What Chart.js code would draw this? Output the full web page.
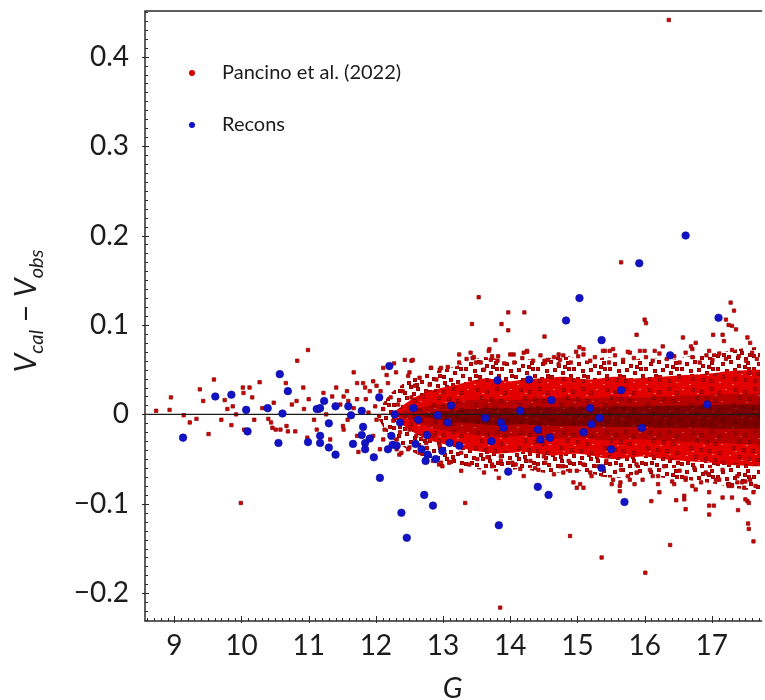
<!DOCTYPE html>
<html>
<head>
<meta charset="utf-8">
<script src="https://cdn.jsdelivr.net/npm/chart.js@4.4.1/dist/chart.umd.min.js"></script>
<style>
html,body{margin:0;padding:0;background:#fff;overflow:hidden}
#wrap{width:765px;height:700px;position:relative}
</style>
</head>
<body>
<div id="wrap"><canvas id="chart" width="765" height="700"></canvas></div>
<script>
// axis limits (x runs past the right edge of the canvas)
const X_MIN = 8.564, X_MAX = 17.72;
const Y_MIN = -0.231, Y_MAX = 0.451;

// Recons stars
const reconsG = [9.13,9.61,9.85,10.07,10.09,10.39,10.57,10.69,10.61,10.55,10.99,11.12,11.17,11.23,11.30,11.17,11.17,11.30,11.40,11.40,
  11.59,11.63,11.66,11.79,11.81,11.79,11.84,11.84,11.91,11.97,12.05,12.06,12.20,12.18,12.25,12.31,12.28,12.36,12.23,12.38,
  12.46,12.56,12.63,12.59,12.68,12.76,12.77,12.74,12.89,12.72,12.85,12.92,12.99,13.10,13.12,13.07,13.24,13.63,13.72,13.81,
  13.83,13.86,13.90,13.97,14.15,14.28,14.41,14.41,14.45,14.57,14.59,14.61,14.83,15.03,15.09,15.19,15.21,15.33,15.36,15.36,
  15.50,15.65,15.70,15.92,15.96,16.38,16.61,16.93,17.10];
const reconsV = [-0.026,0.020,0.022,0.005,-0.019,0.007,0.045,0.026,0.001,-0.032,-0.031,0.006,0.007,0.015,-0.010,-0.024,-0.032,-0.037,-0.045,0.009,
  0.009,-0.001,-0.033,0.004,-0.014,-0.023,-0.032,-0.039,-0.027,-0.048,0.019,-0.071,0.054,-0.039,-0.034,-0.035,0.000,-0.009,-0.024,-0.110,
  -0.138,0.007,-0.006,-0.033,-0.039,-0.023,-0.045,-0.052,-0.050,-0.090,-0.102,-0.001,-0.041,-0.032,0.010,-0.009,-0.035,-0.004,-0.030,0.038,
  -0.124,-0.009,-0.015,-0.064,0.004,0.039,-0.017,-0.081,-0.028,-0.090,-0.026,0.016,0.105,0.130,-0.020,0.007,-0.011,-0.004,0.083,-0.060,
  -0.039,0.027,-0.098,0.169,-0.015,0.066,0.200,0.011,0.108];

// Pancino et al. (2022): isolated stars around and outside the dense cloud
const pancinoG = [8.73,8.93,8.95,9.14,9.23,9.33,9.38,9.43,9.51,9.59,9.70,9.75,9.79,9.85,9.87,9.92,9.99,10.02,10.03,10.12,
  10.04,10.16,10.19,10.27,10.31,10.40,10.44,10.46,10.48,10.51,10.58,10.66,10.67,10.69,10.75,10.82,10.83,10.92,10.99,11.00,
  10.93,10.98,10.80,11.08,11.12,11.22,11.35,11.41,11.47,11.51,11.57,11.67,11.72,11.74,11.81,11.91,12.01,12.11,12.16,12.27,
  12.35,12.43,12.53,12.50,12.94,
  11.52,11.59,11.67,11.72,11.84,11.85,11.89,11.96,11.99,12.01,12.07,12.11,12.13,12.18,12.22,12.26,12.30,12.33,12.36,12.40,
  12.43,12.48,12.50,12.53,12.58,12.60,12.65,12.70,12.75,12.80,12.85,12.90,12.95,12.97,12.65,12.11,12.31,12.50,11.96,11.72,
  11.52,12.31,11.58,11.79,12.06,11.26,11.15,11.32,
  13.53,13.43,13.97,14.21,13.87,13.97,13.78,14.51,16.00,16.02,15.88,17.28,17.33,17.21,17.25,17.30,17.36,17.02,17.16,17.18,
  17.53,17.57,16.57,16.76,16.71,16.69,16.96,16.27,16.15,16.00,15.78,15.48,15.53,15.41,15.09,15.03,15.01,14.74,14.51,14.25,
  14.05,13.69,13.41,13.24,12.97,13.44,13.73,13.81,14.20,14.72,14.52,12.55,12.82,13.49,13.61,15.65,16.36,
  13.33,13.83,14.89,15.36,16.01,16.38,13.85,17.54,17.55,17.62,17.39,17.53,16.96,16.96,17.03,16.61,16.59,16.47,16.22,16.10,
  15.85,15.63,15.64,15.09,14.94,14.79,14.15,13.09,17.30,17.38,17.16,16.76,16.44,17.62,17.50,14.37,14.50,14.79,14.89,14.99,
  13.66,13.73,13.86,14.03,12.38,12.48,13.27,16.59,16.96,17.30,17.50,17.55,15.51,15.63,16.20,15.04,15.19,16.12,15.78,15.88,
  16.61,16.71,16.91,17.11,17.25,17.45,
  12.82,12.95,13.07,13.24,13.35,13.46,13.56,13.68,13.71,13.82,13.91,14.00,14.06,14.18,14.25,14.34,14.45,14.56,14.65,14.72,
  14.79,14.90,14.98,15.09,15.19,15.26,15.38,15.47,15.56,15.68,15.75,15.84,15.93,16.02,16.12,16.22,16.33,16.44,16.52,16.61,
  16.71,16.82,16.92,17.01,17.11,17.21,17.30,17.40,17.51,17.60,17.67,
  12.85,12.99,13.12,13.27,13.39,13.51,13.61,13.73,13.86,13.96,14.08,14.20,14.30,14.42,14.52,14.65,14.74,14.87,14.99,15.09,
  15.21,15.31,15.43,15.53,15.65,15.75,15.88,15.97,16.08,16.20,16.29,16.41,16.52,16.61,16.74,16.84,16.95,17.06,17.16,17.26,
  17.38,17.48,17.57,17.65];
const pancinoV = [0.004,0.005,0.019,-0.001,-0.009,-0.005,0.028,0.015,-0.022,0.039,-0.006,0.016,0.006,-0.012,0.009,0.000,-0.099,0.030,0.024,0.030,
  -0.017,0.019,-0.006,0.036,0.007,-0.005,-0.009,-0.015,0.013,-0.017,-0.017,0.035,-0.013,-0.019,0.011,0.015,0.060,0.030,0.072,0.017,
  0.006,-0.026,-0.019,-0.006,-0.017,0.024,0.020,0.030,0.011,-0.013,0.026,0.047,0.017,-0.042,0.035,0.026,0.032,0.052,0.044,0.057,
  -0.045,0.061,0.060,0.047,-0.056,
  0.020,0.015,0.007,0.035,0.030,0.017,0.002,0.037,0.009,-0.006,0.026,0.006,-0.017,0.035,0.019,-0.007,0.047,0.011,-0.020,0.026,
  0.002,0.043,-0.017,0.019,0.032,-0.024,0.041,0.020,-0.032,0.033,-0.024,0.039,-0.035,-0.054,-0.043,-0.028,-0.039,-0.037,-0.024,-0.024,
  -0.017,-0.028,-0.006,0.002,-0.039,0.000,0.004,-0.028,
  0.131,0.101,0.114,0.114,0.101,0.094,0.083,0.087,0.106,0.102,0.089,0.125,0.116,0.106,0.100,0.099,0.095,0.089,0.089,0.082,
  0.086,0.080,0.086,0.080,0.073,0.076,0.071,0.076,0.071,0.071,0.069,0.071,0.073,0.071,0.073,0.075,0.065,0.061,0.060,0.071,
  0.067,0.073,0.069,0.067,0.052,0.063,0.065,0.060,0.069,0.067,0.058,0.061,0.052,0.058,0.050,0.170,0.441,
  -0.099,-0.071,-0.136,-0.160,-0.177,-0.146,-0.216,-0.122,-0.128,-0.142,-0.107,-0.097,-0.112,-0.102,-0.102,-0.106,-0.095,-0.096,-0.087,-0.097,
  -0.078,-0.086,-0.076,-0.082,-0.076,-0.065,-0.061,-0.054,-0.080,-0.076,-0.093,-0.084,-0.078,-0.087,-0.075,-0.060,-0.047,-0.058,-0.063,-0.082,
  -0.048,-0.056,-0.047,-0.054,-0.043,-0.039,-0.043,-0.091,-0.087,-0.093,-0.095,-0.099,-0.078,-0.080,-0.078,-0.078,-0.065,-0.069,-0.073,-0.065,
  -0.073,-0.080,-0.065,-0.073,-0.080,-0.076,
  0.052,0.050,0.053,0.058,0.062,0.064,0.058,0.071,0.061,0.065,0.057,0.067,0.058,0.063,0.070,0.060,0.066,0.061,0.064,0.056,
  0.066,0.058,0.070,0.067,0.060,0.064,0.071,0.058,0.066,0.061,0.070,0.063,0.071,0.064,0.060,0.068,0.062,0.065,0.058,0.069,
  0.064,0.058,0.066,0.061,0.068,0.062,0.072,0.065,0.060,0.069,0.062,
  -0.052,-0.058,-0.053,-0.063,-0.056,-0.050,-0.065,-0.058,-0.052,-0.063,-0.056,-0.069,-0.052,-0.062,-0.054,-0.067,-0.058,-0.052,-0.063,-0.056,
  -0.069,-0.058,-0.052,-0.073,-0.062,-0.069,-0.056,-0.073,-0.062,-0.069,-0.058,-0.075,-0.063,-0.071,-0.060,-0.076,-0.067,-0.073,-0.062,-0.078,
  -0.069,-0.082,-0.073,-0.080];

// envelope of the crowded part of the Pancino sample, per G bin
const bandG    = [12.0,12.2,12.4,12.6,12.8,13.0,13.2,13.4,13.6,13.8,14.0,14.2,14.4,14.6,14.8,15.0,15.2,15.4,15.6,15.8,16.0,16.2,16.4,16.6,16.8,17.0,17.2,17.4,17.6,17.72];
const fringeHi = [0,0.022,0.034,0.042,0.047,0.050,0.054,0.060,0.064,0.062,0.058,0.062,0.061,0.063,0.066,0.062,0.060,0.064,0.062,0.060,0.064,0.062,0.061,0.064,0.066,0.068,0.070,0.073,0.075,0.076];
const fringeLo = [0,-0.024,-0.036,-0.044,-0.050,-0.053,-0.056,-0.060,-0.062,-0.064,-0.062,-0.061,-0.064,-0.066,-0.064,-0.063,-0.066,-0.070,-0.071,-0.068,-0.067,-0.070,-0.072,-0.073,-0.075,-0.077,-0.080,-0.083,-0.085,-0.086];
const solidHi  = [0,0,0.010,0.020,0.026,0.030,0.033,0.037,0.040,0.039,0.037,0.039,0.040,0.041,0.042,0.040,0.039,0.041,0.042,0.040,0.041,0.042,0.043,0.044,0.045,0.046,0.048,0.049,0.050,0.050];
const solidLo  = [0,0,-0.012,-0.022,-0.029,-0.033,-0.036,-0.040,-0.042,-0.044,-0.043,-0.042,-0.044,-0.046,-0.045,-0.044,-0.046,-0.049,-0.050,-0.048,-0.047,-0.049,-0.051,-0.052,-0.053,-0.054,-0.056,-0.057,-0.058,-0.058];
const coreHi   = [0,0,0.002,0.006,0.010,0.012,0.014,0.016,0.017,0.017,0.016,0.017,0.018,0.018,0.019,0.018,0.018,0.019,0.020,0.019,0.019,0.020,0.020,0.021,0.021,0.022,0.022,0.023,0.023,0.023];
const coreLo   = [0,0,-0.004,-0.009,-0.014,-0.018,-0.020,-0.022,-0.024,-0.025,-0.025,-0.024,-0.026,-0.027,-0.027,-0.026,-0.027,-0.029,-0.029,-0.028,-0.028,-0.029,-0.030,-0.031,-0.031,-0.032,-0.032,-0.033,-0.033,-0.033];
const darkHi   = [0,0,0,0,0.002,0.004,0.005,0.006,0.007,0.007,0.007,0.007,0.008,0.008,0.008,0.008,0.008,0.008,0.009,0.009,0.009,0.009,0.010,0.010,0.010,0.010,0.011,0.011,0.011,0.011];
const darkLo   = [0,0,0,0,-0.004,-0.007,-0.009,-0.010,-0.011,-0.012,-0.012,-0.011,-0.012,-0.013,-0.013,-0.013,-0.013,-0.014,-0.014,-0.014,-0.014,-0.015,-0.015,-0.015,-0.015,-0.016,-0.016,-0.016,-0.016,-0.016];

const FONT = 'Lato, "DejaVu Sans", sans-serif';
const INK = '#1c1c1c';

const pts = (gs, vs) => gs.map((g, i) => ({x: g, y: vs[i]}));

// speckle textures built from small square markers
const SPOTS_SPARSE = [[1,2],[9,0],[17,4],[26,1],[32,7],[5,9],[13,8],[21,11],[29,14],[0,17],[10,15],[17,18],[24,20],[32,22],
  [4,24],[13,25],[20,27],[28,29],[7,31],[16,32],[24,33],[32,30],[2,29],[11,21],[27,7],[19,23],[6,14],[23,5]];
const SPOTS_DENSE = [[3,1],[12,3],[22,0],[30,4],[7,9],[17,10],[26,12],[1,16],[11,18],[20,19],[30,21],[6,25],[16,27],[25,28],[33,31],[3,33],[13,34],[22,35]];
const GAPS = [[9,6],[27,8],[15,15],[4,21],[24,24],[33,14],[10,30],[19,31],[37,2],[31,38],[1,40],[41,25]];

function speckle(spots, base, gaps, size){
  const c = document.createElement('canvas');
  c.width = size; c.height = size;
  const g = c.getContext('2d');
  if (base){ g.fillStyle = base; g.fillRect(0, 0, size, size); }
  (gaps || []).forEach(([x, y]) => { g.fillStyle = 'rgba(255,210,210,0.55)'; g.fillRect(x, y, 2, 1); });
  spots.forEach(([x, y]) => {
    g.fillStyle = '#d60000'; g.fillRect(x, y, 4, 4);
    g.strokeStyle = 'rgba(125,0,0,0.75)'; g.lineWidth = 1; g.strokeRect(x + 0.5, y + 0.5, 3, 3);
  });
  return g.createPattern(c, 'repeat');
}

function band(values, colour, fillNext){
  return {type:'line', data: pts(bandG, values), pointRadius:0, borderWidth:0, tension:0.25,
    backgroundColor: colour, fill: fillNext ? '+1' : false};
}

// frame and inward ticks, matplotlib style
const frame = {
  id: 'frame',
  afterDatasetsDraw(chart){
    const {ctx, chartArea: a, scales: {x, y}} = chart;
    ctx.save();
    ctx.strokeStyle = '#2b2b2b';
    ctx.lineWidth = 1.5;
    ctx.beginPath();
    ctx.moveTo(a.right + 2, a.top); ctx.lineTo(a.left, a.top);
    ctx.lineTo(a.left, a.bottom); ctx.lineTo(a.right + 2, a.bottom);
    ctx.stroke();
    ctx.lineWidth = 1;
    ctx.beginPath();
    for (let k = Math.ceil(X_MIN * 10); k <= Math.floor(X_MAX * 10); k++){
      const px = Math.round(x.getPixelForValue(k / 10)) + 0.5;
      const major = k % 10 === 0;
      ctx.moveTo(px, a.bottom + (major ? 2 : 0));
      ctx.lineTo(px, a.bottom - (major ? 5 : 3));
    }
    for (let k = Math.ceil(Y_MIN * 100); k <= Math.floor(Y_MAX * 100); k++){
      const py = Math.round(y.getPixelForValue(k / 100)) + 0.5;
      const major = k % 10 === 0;
      ctx.moveTo(a.left - (major ? 3 : 0), py);
      ctx.lineTo(a.left + (major ? 4 : 3), py);
    }
    ctx.stroke();
    ctx.restore();
  }
};

// legend in the upper-left corner of the plot
const cornerLegend = {
  id: 'cornerLegend',
  afterDraw(chart){
    const {ctx, chartArea: a} = chart;
    const items = chart.data.datasets.filter(d => d.inLegend);
    items.sort((p, q) => p.legendRank - q.legendRank);
    ctx.save();
    ctx.font = '20px ' + FONT;
    ctx.textBaseline = 'middle';
    items.forEach((d, i) => {
      const cy = a.top + 62 + i * 52;
      ctx.fillStyle = d.backgroundColor;
      ctx.beginPath();
      ctx.arc(a.left + 47, cy, 3, 0, Math.PI * 2);
      ctx.fill();
      ctx.fillStyle = INK;
      ctx.fillText(d.label, a.left + 77, cy);
    });
    ctx.restore();
  }
};

// axis titles with subscripts
const titles = {
  id: 'titles',
  afterDraw(chart){
    const {ctx, chartArea: a} = chart;
    ctx.save();
    ctx.fillStyle = INK;
    ctx.textBaseline = 'alphabetic';
    ctx.font = 'italic 29px ' + FONT;
    ctx.textAlign = 'center';
    ctx.fillText('G', (a.left + a.right) / 2, 698);

    const parts = [
      {t:'V', f:'italic 30px ' + FONT, dy:0},
      {t:'cal', f:'italic 20px ' + FONT, dy:7},
      {t:' \u2212 ', f:'30px ' + FONT, dy:0},
      {t:'V', f:'italic 30px ' + FONT, dy:0},
      {t:'obs', f:'italic 20px ' + FONT, dy:7}
    ];
    let total = 0;
    parts.forEach(p => { ctx.font = p.f; p.w = ctx.measureText(p.t).width; total += p.w; });
    ctx.translate(36, 311);
    ctx.rotate(-Math.PI / 2);
    ctx.textAlign = 'left';
    let cx = -total / 2;
    parts.forEach(p => { ctx.font = p.f; ctx.fillText(p.t, cx, p.dy); cx += p.w; });
    ctx.restore();
  }
};

const tickFont = {family: FONT, size: 28};
const yLabel = v => Math.abs(v) < 1e-9 ? '0' : (v < 0 ? '\u2212' : '') + Math.abs(v).toFixed(1);

new Chart(document.getElementById('chart'), {
  type: 'scatter',
  data: {
    datasets: [
      {label:'Recons', data: pts(reconsG, reconsV), pointStyle:'circle', pointRadius:3.8,
        backgroundColor:'#1212c6', borderColor:'#0b0b96', borderWidth:0.6, inLegend:true, legendRank:1},
      {type:'line', data:[{x:X_MIN, y:0}, {x:X_MAX, y:0}], borderColor:'#1a1a1a', borderWidth:1.4, pointRadius:0, fill:false},
      {label:'Pancino et al. (2022)', data: pts(pancinoG, pancinoV), pointStyle:'rect', pointRadius:2.4,
        backgroundColor:'#d40000', borderColor:'#8e0a0a', borderWidth:0.8, inLegend:true, legendRank:0},
      band(darkHi, 'rgba(60,0,0,0.45)', true), band(darkLo, null, false),
      band(coreHi, 'rgba(110,0,0,0.35)', true), band(coreLo, null, false),
      band(solidHi, speckle(SPOTS_DENSE, '#e20000', GAPS, 43), true), band(solidLo, null, false),
      band(fringeHi, speckle(SPOTS_SPARSE, null, null, 36), true), band(fringeLo, null, false)
    ]
  },
  options: {
    responsive: false,
    animation: false,
    layout: {padding: {top: 11, left: 0, right: 0, bottom: 0}},
    plugins: {legend: {display: false}, tooltip: {enabled: false}},
    scales: {
      x: {
        type: 'linear', min: X_MIN, max: X_MAX,
        grid: {display: false, drawTicks: false}, border: {display: false},
        ticks: {stepSize: 1, includeBounds: false, autoSkip: false, maxRotation: 0,
          padding: 8, color: INK, font: tickFont},
        afterFit(s){ s.height = 79; s.paddingLeft = 0; s.paddingRight = 0; }
      },
      y: {
        type: 'linear', min: Y_MIN, max: Y_MAX,
        grid: {display: false, drawTicks: false}, border: {display: false},
        ticks: {stepSize: 0.1, includeBounds: false, autoSkip: false,
          padding: 16, color: INK, font: tickFont, callback: yLabel},
        afterFit(s){ s.width = 145; s.paddingTop = 0; s.paddingBottom = 0; }
      }
    }
  },
  plugins: [frame, cornerLegend, titles]
});
</script>
</body>
</html>
